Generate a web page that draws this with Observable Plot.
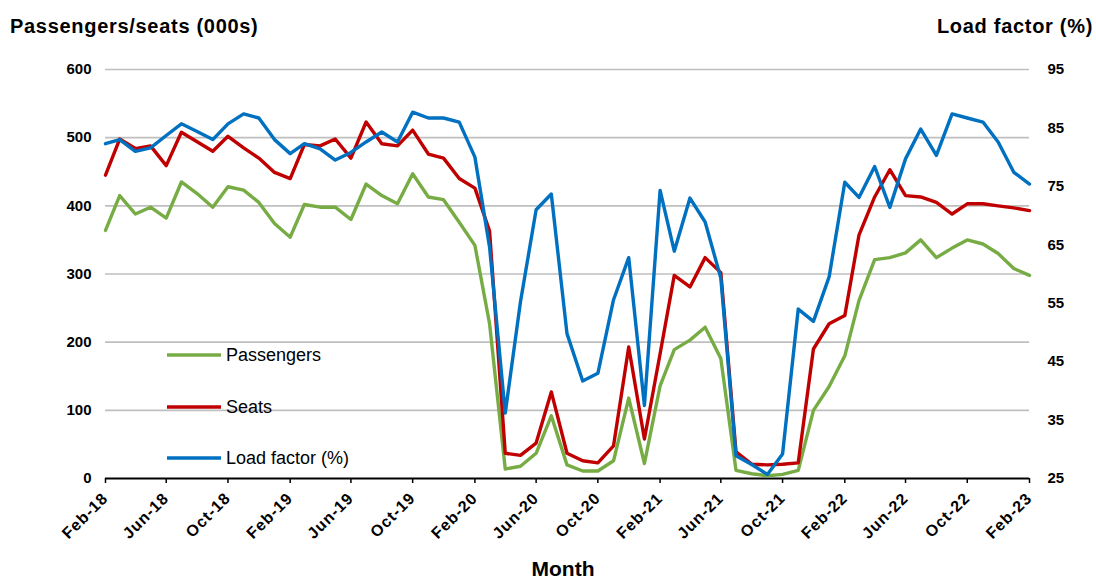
<!DOCTYPE html>
<html><head><meta charset="utf-8">
<script src="https://cdn.jsdelivr.net/npm/d3@7"></script>
<script src="https://cdn.jsdelivr.net/npm/@observablehq/plot@0.6"></script>
<style>
body{margin:0;background:#fff;font-family:"Liberation Sans",Arial,sans-serif;}
#wrap{position:relative;width:1096px;height:582px;}
</style></head><body><div id="wrap"></div>
<script>
const passengers = [364,415,388,398,382,435,418,398,428,423,405,374,354,402,398,398,380,432,415,403,447,413,409,376,342,227,14,18,37,92,20,11,11,26,118,22,136,189,203,222,176,12,7,4,6,12,100,135,180,261,321,324,331,350,324,338,350,344,330,308,298];
const seats = [445,498,484,488,459,508,494,480,502,485,470,449,440,490,488,498,470,523,491,488,511,476,470,440,426,363,37,34,52,127,37,26,23,48,193,58,183,298,281,324,302,39,21,20,21,23,190,227,239,357,413,453,415,413,405,388,403,403,400,397,393];
const loadFactor = [82.3,83.0,81.0,81.6,83.7,85.7,84.4,83.0,85.7,87.4,86.7,83.0,80.6,82.3,81.4,79.5,80.8,82.6,84.3,82.6,87.7,86.7,86.7,86.0,80.0,64.6,36.2,55.2,71.0,73.7,49.8,41.7,43.0,55.6,62.8,37.5,74.3,63.9,73.0,68.9,59.3,28.9,27.4,25.7,29.2,54.0,51.9,59.5,75.7,73.1,78.4,71.4,79.7,84.8,80.3,87.4,86.7,86.0,82.6,77.4,75.4];
const leftTicks = [0,100,200,300,400,500,600];
const rightTicks = [25,35,45,55,65,75,85,95];
const seriesNames = ["Passengers","Seats","Load factor (%)"];
const seriesColors = ["#77AC45","#C00000","#0070C0"];

const months = d3.utcMonth.range(new Date(Date.UTC(2018,1,1)), new Date(Date.UTC(2023,2,1)));
const tickDates = months.filter((d,i)=>i%4===0);
const lfToY = v => (v-25)*600/70;
const yToLf = v => v*70/600+25;
const rows = months.map((d,i)=>({date:d, passengers:passengers[i], seats:seats[i], lf:loadFactor[i]}));

const chart = Plot.plot({
  width:1096, height:582,
  marginLeft:105, marginRight:67, marginTop:69, marginBottom:104,
  style:{fontFamily:"'Liberation Sans', Arial, sans-serif", fontSize:"15px", fontWeight:"bold", color:"#000", background:"#fff"},
  x:{type:"utc", domain:[months[0], months[months.length-1]]},
  y:{domain:[0,600]},
  marks:[
    Plot.ruleY(leftTicks.filter(v=>v>0), {stroke:"#BFBFBF", strokeWidth:1.6}),
    Plot.axisY(leftTicks, {tickSize:0, tickPadding:14, label:null}),
    Plot.axisY(rightTicks.map(lfToY), {anchor:"right", tickSize:0, tickPadding:18, tickFormat:v=>Math.round(yToLf(v)), label:null}),
    Plot.axisX(tickDates, {tickFormat:d3.utcFormat("%b-%y"), tickRotate:-45, tickSize:5, tickPadding:12, label:null, stroke:"#000", strokeWidth:1.5}),
    Plot.ruleY([0], {stroke:"#000", strokeWidth:1.8}),
    Plot.lineY(rows, {x:"date", y:"passengers", stroke:seriesColors[0], strokeWidth:3.4}),
    Plot.lineY(rows, {x:"date", y:"seats", stroke:seriesColors[1], strokeWidth:3.4}),
    Plot.lineY(rows, {x:"date", y:d=>lfToY(d.lf), stroke:seriesColors[2], strokeWidth:3.4})
  ]
});
document.getElementById("wrap").appendChild(chart);

const svg = d3.select(chart);
svg.selectAll('g[aria-label="x-axis tick label"]').attr("font-size",16).attr("letter-spacing","1px");
svg.selectAll('g[aria-label="y-axis tick label"]').attr("font-size",15);
const font = "'Liberation Sans', Arial, sans-serif";
svg.append("text").attr("x",10).attr("y",33).attr("text-anchor","start").attr("font-size",20).attr("letter-spacing","0.7px").attr("font-weight","bold").attr("font-family",font).attr("fill","#000").text("Passengers/seats (000s)");
svg.append("text").attr("x",1093).attr("y",33).attr("text-anchor","end").attr("font-size",20).attr("letter-spacing","0.7px").attr("font-weight","bold").attr("font-family",font).attr("fill","#000").text("Load factor (%)");
svg.append("text").attr("x",563).attr("y",576).attr("text-anchor","middle").attr("font-size",21).attr("font-weight","bold").attr("font-family",font).attr("fill","#000").text("Month");

const legY = [355,407,458];
seriesNames.forEach((n,i)=>{
  svg.append("line").attr("x1",167).attr("x2",221).attr("y1",legY[i]).attr("y2",legY[i]).attr("stroke",seriesColors[i]).attr("stroke-width",3.4);
  svg.append("text").attr("x",226).attr("y",legY[i]+6).attr("text-anchor","start").attr("font-size",18).attr("font-weight","normal").attr("font-family",font).attr("fill","#000").text(n);
});
</script>
</body></html>
